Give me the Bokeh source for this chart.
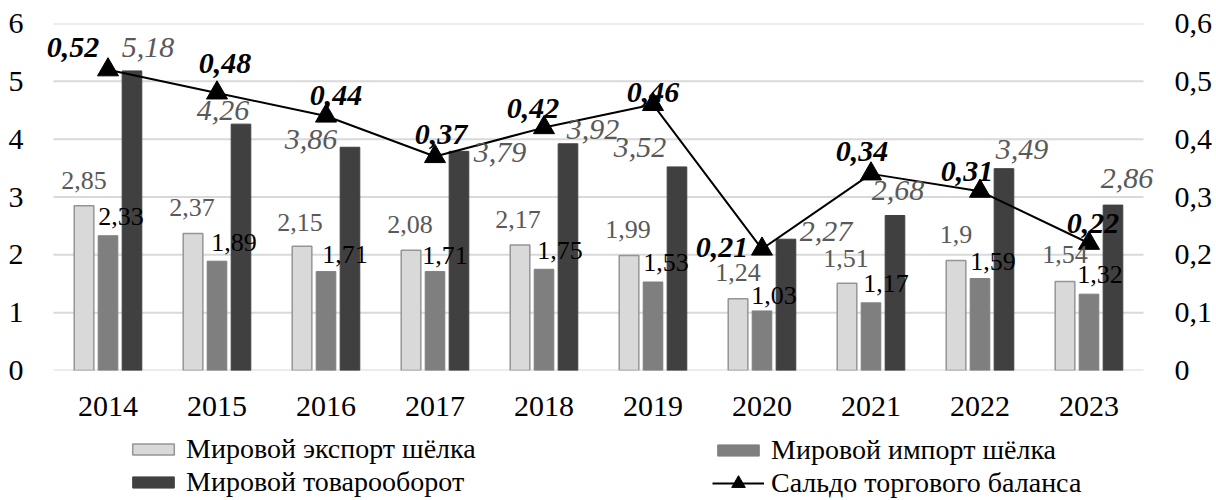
from bokeh.plotting import figure
from bokeh.models import (ColumnDataSource, FactorRange, Range1d, LinearAxis, FixedTicker,
                          CustomJSTickFormatter, Legend, LegendItem)
from bokeh.layouts import column
from bokeh.transform import dodge
from bokeh.core.properties import value
from bokeh.embed import file_html
from bokeh.resources import INLINE

# ---- data ----
years = ["2014", "2015", "2016", "2017", "2018", "2019", "2020", "2021", "2022", "2023"]
export_silk = [2.85, 2.37, 2.15, 2.08, 2.17, 1.99, 1.24, 1.51, 1.9, 1.54]
import_silk = [2.33, 1.89, 1.71, 1.71, 1.75, 1.53, 1.03, 1.17, 1.59, 1.32]
turnover = [5.18, 4.26, 3.86, 3.79, 3.92, 3.52, 2.27, 2.68, 3.49, 2.86]
balance = [0.52, 0.48, 0.44, 0.37, 0.42, 0.46, 0.21, 0.34, 0.31, 0.22]
left_ticks = [0, 1, 2, 3, 4, 5, 6]
right_ticks = [0, 0.1, 0.2, 0.3, 0.4, 0.5, 0.6]
series_names = ["Мировой экспорт шёлка", "Мировой импорт шёлка",
                "Мировой товарооборот", "Сальдо торгового баланса"]

# ---- label offsets (screen px), manual placements ----
exp_dx = [0, -1, -2, -1, -2, -1, 0, -1, 0, 0]
exp_dy = [-25, -26, -24, -26, -26, -26, -26, -25, -26, -27]
imp_dx = [13, 17, 19, 10, 16, 13, 12, 15, 13, 11]
imp_dy = [-19, -19, -17, -16, -19, -20, -15, -19, -17, -20]
tur_dx = [16, -18, -39, 41, 25, -37, 40, 3, 18, 14]
tur_dy = [-23, -14, -8, 1, -14, -19, -8, -25, -19, -27]
bal_dx = [-35, 8, 10, 6, -11, 0, -40, -9, -13, 4]
bal_dy = [-22, -29, -21, -22, -19, -12, -2, -22, -20, -20]


def fmt(v):
    return ("%g" % v).replace(".", ",")


src = ColumnDataSource(dict(
    year=years, exp=export_silk, imp=import_silk, tur=turnover, bal=balance,
    exp_lbl=[fmt(v) for v in export_silk], imp_lbl=[fmt(v) for v in import_silk],
    tur_lbl=[fmt(v) for v in turnover], bal_lbl=[fmt(v) for v in balance],
    exp_dx=exp_dx, exp_dy=exp_dy, imp_dx=imp_dx, imp_dy=imp_dy,
    tur_dx=tur_dx, tur_dy=tur_dy, bal_dx=bal_dx, bal_dy=bal_dy,
))

FONT = "Liberation Serif"
C_EXP, C_EXP_LINE = "#d9d9d9", "#959595"
C_IMP = "#7f7f7f"
C_TUR = "#404040"
BL, BR = 36, 56  # borders (frame is a bit wider than the category area so labels aren't clipped)

p = figure(width=1216, height=432,
           x_range=FactorRange(factors=years, range_padding=0.0312, range_padding_units="percent"),
           y_range=Range1d(0, 6), output_backend="svg", toolbar_location=None,
           min_border_left=BL, min_border_right=BR, min_border_top=23, min_border_bottom=62)
p.outline_line_color = None
p.grid.visible = False
p.yaxis.ticker = FixedTicker(ticks=left_ticks)

# horizontal gridlines spanning only the category area
grid_src = ColumnDataSource(dict(y=left_ticks, x0=[years[0]] * len(left_ticks),
                                 x1=[years[-1]] * len(left_ticks)))
p.segment(x0=dodge("x0", -0.5, range=p.x_range), x1=dodge("x1", 0.5, range=p.x_range),
          y0="y", y1="y", source=grid_src, line_color="#d9d9d9", line_width=2)

for ax in (p.xaxis[0], p.yaxis[0]):
    ax.axis_line_color = None
    ax.major_tick_line_color = None
    ax.minor_tick_line_color = None
    ax.major_label_text_font = FONT
    ax.major_label_text_font_size = "30px"
    ax.major_label_text_color = "black"
p.yaxis.major_label_standoff = 7
p.xaxis.major_label_standoff = 20

p.extra_y_ranges = {"r": Range1d(0, 0.6)}
rax = LinearAxis(y_range_name="r", ticker=FixedTicker(ticks=right_ticks),
                 formatter=CustomJSTickFormatter(code="return tick == 0 ? '0' : tick.toFixed(1).replace('.', ',');"))
rax.axis_line_color = None
rax.major_tick_line_color = None
rax.minor_tick_line_color = None
rax.major_label_text_font = FONT
rax.major_label_text_font_size = "30px"
rax.major_label_text_color = "black"
rax.major_label_standoff = 8
p.add_layout(rax, "right")

BW = 0.18
exp_style = dict(fill_color=C_EXP, line_color=C_EXP_LINE, line_width=1.5)
imp_style = dict(fill_color=C_IMP, line_color=C_IMP, line_width=1)
tur_style = dict(fill_color=C_TUR, line_color=C_TUR, line_width=1)
p.vbar(x=dodge("year", -0.22, range=p.x_range), top="exp", width=BW, source=src, **exp_style)
p.vbar(x=dodge("year", 0, range=p.x_range), top="imp", width=BW, source=src, **imp_style)
p.vbar(x=dodge("year", 0.22, range=p.x_range), top="tur", width=BW, source=src, **tur_style)
p.line(x="year", y="bal", y_range_name="r", source=src, line_color="black", line_width=2)
p.scatter(x="year", y="bal", y_range_name="r", source=src, marker="triangle",
          size=21, fill_color="black", line_color="black")

common = dict(text_font=value(FONT), text_align="center", text_baseline="middle", source=src)
p.text(x=dodge("year", -0.22, range=p.x_range), y="exp", text="exp_lbl", x_offset="exp_dx",
       y_offset="exp_dy", text_font_size="26px", text_color="#595959", **common)
p.text(x=dodge("year", 0, range=p.x_range), y="imp", text="imp_lbl", x_offset="imp_dx",
       y_offset="imp_dy", text_font_size="26px", text_color="black", **common)
p.text(x=dodge("year", 0.22, range=p.x_range), y="tur", text="tur_lbl", x_offset="tur_dx",
       y_offset="tur_dy", text_font_size="30px", text_font_style="italic",
       text_color="#595959", **common)
p.text(x="year", y="bal", y_range_name="r", text="bal_lbl", x_offset="bal_dx",
       y_offset="bal_dy", text_font_size="30px", text_font_style="bold italic",
       text_color="black", **common)

# ---- legend strip below the chart ----
LG_H = 68
lg = figure(width=1216, height=LG_H, x_range=Range1d(0, 1), y_range=Range1d(0, 1),
            output_backend="svg", toolbar_location=None,
            min_border_left=BL, min_border_right=BR, min_border_top=0, min_border_bottom=0)
lg.axis.visible = False
lg.grid.visible = False
lg.outline_line_color = None
nan = float("nan")
d_exp = lg.vbar(x=[nan], top=[nan], width=0.1, **exp_style)
d_imp = lg.vbar(x=[nan], top=[nan], width=0.1, **imp_style)
d_tur = lg.vbar(x=[nan], top=[nan], width=0.1, **tur_style)
d_line = lg.line(x=[nan], y=[nan], line_color="black", line_width=2)
d_mark = lg.scatter(x=[nan], y=[nan], marker="triangle", size=16, fill_color="black",
                    line_color="black")

leg_style = dict(glyph_width=52, label_standoff=7, spacing=1, padding=0,
                 margin=0, border_line_color=None, background_fill_alpha=0,
                 label_text_font=FONT, label_text_font_size="28px", label_text_color="black")
leg1 = Legend(items=[LegendItem(label=series_names[0], renderers=[d_exp]),
                     LegendItem(label=series_names[2], renderers=[d_tur])],
              location=(127 - BL, 2), glyph_height=14, **leg_style)
leg2 = Legend(items=[LegendItem(label=series_names[1], renderers=[d_imp])],
              location=(712 - BL, 34), glyph_height=14, **leg_style)
leg3 = Legend(items=[LegendItem(label=series_names[3], renderers=[d_line, d_mark])],
              location=(712 - BL, 0), glyph_height=34, **leg_style)
lg.add_layout(leg1)
lg.add_layout(leg2)
lg.add_layout(leg3)

open("out.html", "w").write(file_html(column(p, lg, spacing=0), INLINE))
